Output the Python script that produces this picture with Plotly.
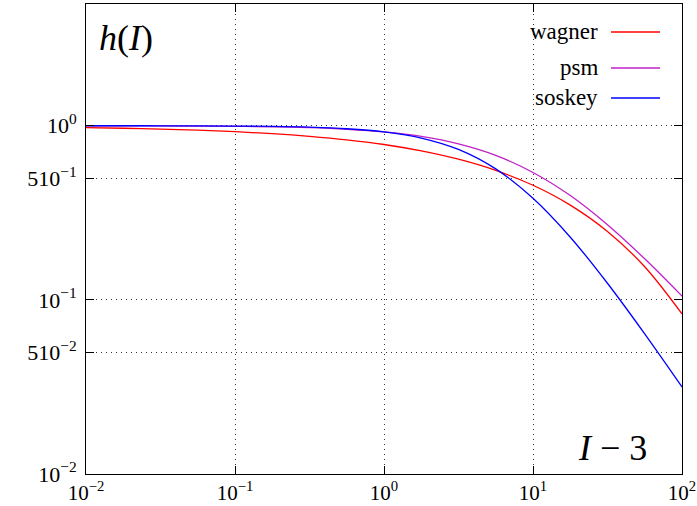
import math
import plotly.graph_objects as go

# strain measure I-3 (quarter-decade steps) and damping function values h(I)
strain = [0.01, 0.0178, 0.0316, 0.0562, 0.1, 0.178, 0.316, 0.562, 1,
          1.78, 3.16, 5.62, 10, 17.8, 31.6, 56.2, 100]
wagner = [0.975, 0.967, 0.957, 0.943, 0.924, 0.900, 0.869, 0.830, 0.780,
          0.717, 0.642, 0.554, 0.455, 0.350, 0.247, 0.155, 0.083]
psm = [0.999, 0.998, 0.997, 0.995, 0.992, 0.985, 0.974, 0.954, 0.921,
       0.868, 0.787, 0.676, 0.539, 0.397, 0.270, 0.172, 0.105]
soskey = [0.9998, 0.9995, 0.9990, 0.9979, 0.9956, 0.9908, 0.981, 0.961, 0.922,
          0.850, 0.731, 0.565, 0.383, 0.229, 0.1246, 0.0638, 0.0316]

series_names = ["wagner", "psm", "soskey"]
series_values = [wagner, psm, soskey]
series_colors = ["#ff0000", "#c020c8", "#0000ff"]

x_tickvals = [0.01, 0.1, 1, 10, 100]
x_ticktext = ["10<sup>−2</sup>", "10<sup>−1</sup>", "10<sup>0</sup>", "10<sup>1</sup>", "10<sup>2</sup>"]
y_tickvals = [0.01, 0.05, 0.1, 0.5, 1]
y_ticktext = ["10<sup>−2</sup>", "510<sup>−2</sup>", "10<sup>−1</sup>", "510<sup>−1</sup>", "10<sup>0</sup>"]

SERIF = "Liberation Serif"

fig = go.Figure()
for name, vals, col in zip(series_names, series_values, series_colors):
    fig.add_trace(go.Scatter(x=strain, y=vals, mode="lines", name=name,
                             line=dict(color=col, width=1.3, shape="spline", smoothing=1),
                             showlegend=False))

axis_common = dict(
    type="log", showline=True, linecolor="black", linewidth=1, mirror="ticks",
    ticks="inside", ticklen=8, tickcolor="black", tickwidth=1,
    showgrid=True, gridcolor="#333333", gridwidth=1, griddash="1px,4px",
    zeroline=False, automargin=False, ticklabeloverflow="allow",
)
fig.update_xaxes(range=[-2, 2], tickvals=x_tickvals, ticktext=x_ticktext,
                 tickfont=dict(family=SERIF, size=21, color="black"), **axis_common)
fig.update_yaxes(range=[-2, math.log10(5)], tickvals=y_tickvals, ticktext=y_ticktext,
                 tickfont=dict(family=SERIF, size=22, color="black"),
                 ticklabelstandoff=4, **axis_common)

# legend drawn as right-aligned labels followed by line samples
legend_y = [32, 68, 98]
for name, col, yy in zip(series_names, series_colors, legend_y):
    fig.add_annotation(xref="paper", yref="paper", x=(600 - 86) / 596, y=(474 - yy) / 470,
                       text=name, showarrow=False, xanchor="right", yanchor="middle",
                       font=dict(family=SERIF, size=23, color="black"))
    fig.add_shape(type="line", xref="paper", yref="paper",
                  x0=(611 - 86) / 596, x1=(660 - 86) / 596,
                  y0=(474 - yy) / 470, y1=(474 - yy) / 470,
                  line=dict(color=col, width=1.3))

fig.add_annotation(xref="paper", yref="paper", x=(126 - 86) / 596, y=(474 - 38) / 470,
                   text="<i>h</i>(<i>I</i>)", showarrow=False, xanchor="center", yanchor="middle",
                   font=dict(family=SERIF, size=36, color="black"))
fig.add_annotation(xref="paper", yref="paper", x=(612 - 86) / 596, y=(474 - 448) / 470,
                   text="<i>I</i> − 3", showarrow=False, xanchor="center", yanchor="middle",
                   font=dict(family=SERIF, size=36, color="black"))

fig.update_layout(
    width=697, height=506,
    margin=dict(l=86, r=15, t=4, b=32),
    paper_bgcolor="white", plot_bgcolor="white",
    font=dict(family=SERIF),
)

fig.write_html("out.html")
